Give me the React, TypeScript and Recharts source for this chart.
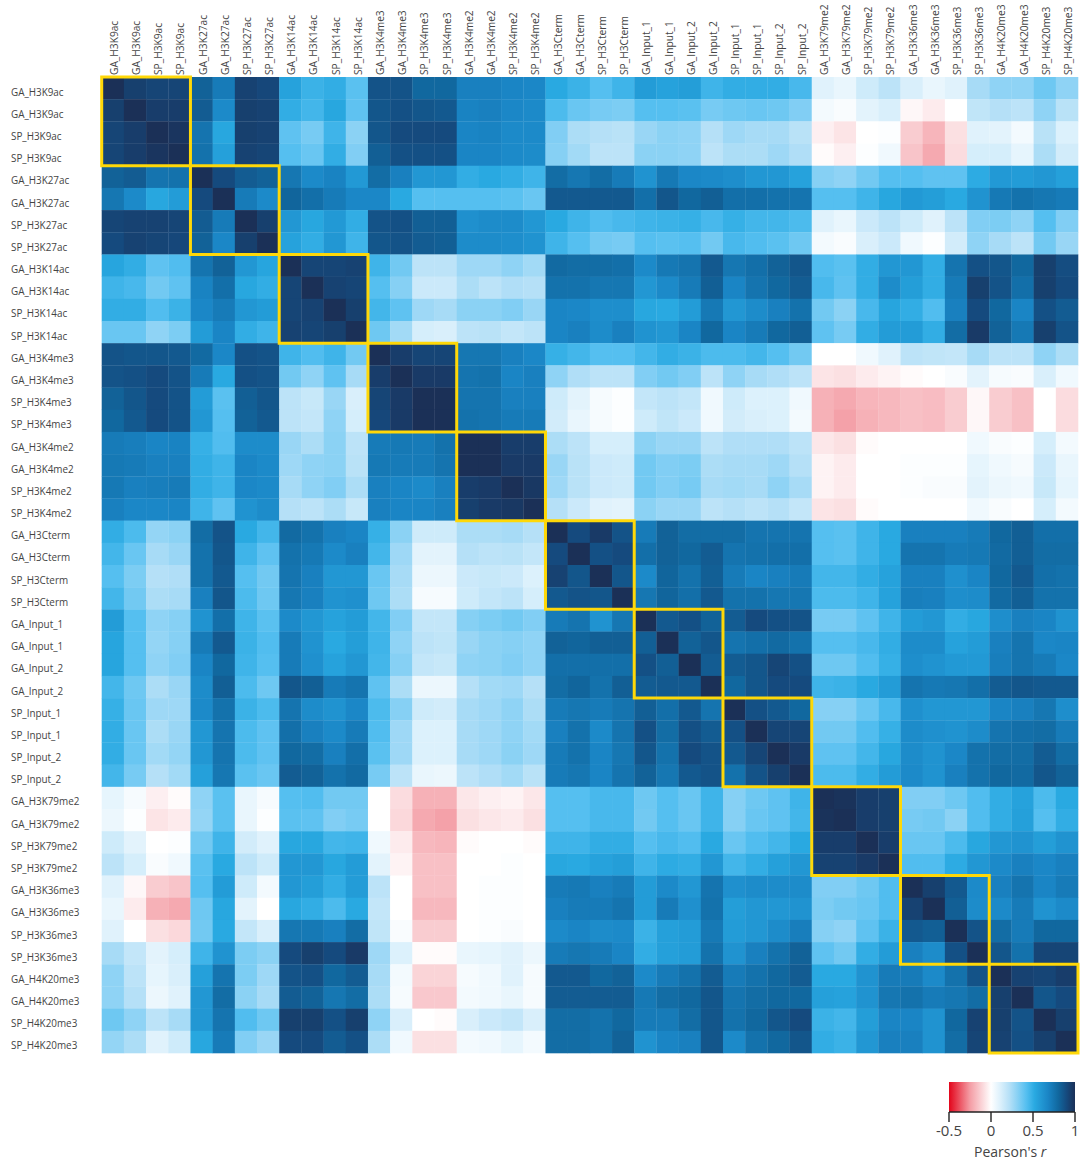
import React from 'react';
import { ScatterChart, Scatter, XAxis, YAxis, ReferenceArea, ComposedChart, Area } from 'recharts';

const labels = [
  'GA_H3K9ac', 'GA_H3K9ac', 'SP_H3K9ac', 'SP_H3K9ac',
  'GA_H3K27ac', 'GA_H3K27ac', 'SP_H3K27ac', 'SP_H3K27ac',
  'GA_H3K14ac', 'GA_H3K14ac', 'SP_H3K14ac', 'SP_H3K14ac',
  'GA_H3K4me3', 'GA_H3K4me3', 'SP_H3K4me3', 'SP_H3K4me3',
  'GA_H3K4me2', 'GA_H3K4me2', 'SP_H3K4me2', 'SP_H3K4me2',
  'GA_H3Cterm', 'GA_H3Cterm', 'SP_H3Cterm', 'SP_H3Cterm',
  'GA_Input_1', 'GA_Input_1', 'GA_Input_2', 'GA_Input_2',
  'SP_Input_1', 'SP_Input_1', 'SP_Input_2', 'SP_Input_2',
  'GA_H3K79me2', 'GA_H3K79me2', 'SP_H3K79me2', 'SP_H3K79me2',
  'GA_H3K36me3', 'GA_H3K36me3', 'SP_H3K36me3', 'SP_H3K36me3',
  'GA_H4K20me3', 'GA_H4K20me3', 'SP_H4K20me3', 'SP_H4K20me3',
];

// block edges of the yellow boxes, in cells
const boxEdges = [0, 4, 8, 12, 16, 20, 24, 28, 32, 36, 40, 44];

const row00 = [1, .94, .92, .92, .82, .72, .93, .91, .55, .48, .5, .41, .87, .87, .8, .8, .7, .7, .68, .67, .52, .48, .42, .47, .58, .55, .57, .47, .5, .5, .5, .45, .1, .07, .15, .2, .12, .07, .1, .25, .3, .3, .37, .3];
const row01 = [.94, 1, .95, .95, .84, .66, .94, .93, .5, .46, .53, .4, .86, .88, .86, .85, .69, .7, .67, .66, .44, .38, .35, .34, .42, .42, .41, .35, .37, .38, .37, .33, .04, .02, .09, .12, -.02, -.05, 0, .19, .22, .2, .3, .21];
const row02 = [.92, .95, 1, .98, .75, .53, .94, .93, .4, .35, .47, .31, .86, .9, .9, .9, .68, .69, .66, .66, .33, .24, .22, .21, .28, .31, .3, .22, .27, .25, .25, .21, -.04, -.07, 0, .01, -.13, -.19, -.08, .1, .09, .04, .21, .11];
const row03 = [.92, .95, .98, 1, .76, .56, .93, .92, .42, .38, .5, .33, .83, .88, .88, .88, .68, .68, .66, .65, .32, .26, .2, .2, .31, .31, .3, .2, .24, .24, .27, .23, -.01, -.04, .01, .05, -.15, -.22, -.09, .13, .13, .08, .24, .14];
const row04 = [.82, .84, .75, .76, 1, .9, .84, .82, .74, .66, .69, .59, .78, .7, .6, .6, .5, .52, .5, .47, .78, .74, .78, .72, .62, .73, .67, .66, .64, .6, .6, .55, .32, .3, .36, .42, .42, .4, .4, .51, .59, .58, .6, .56];
const row05 = [.74, .66, .53, .58, .9, 1, .72, .66, .81, .77, .72, .67, .67, .52, .42, .42, .42, .42, .41, .38, .85, .85, .85, .85, .77, .86, .8, .83, .77, .77, .76, .75, .42, .42, .47, .53, .59, .57, .52, .62, .73, .76, .74, .72];
const row06 = [.92, .93, .93, .92, .84, .72, 1, .94, .6, .53, .59, .5, .87, .88, .83, .83, .63, .65, .65, .6, .52, .47, .43, .45, .47, .48, .49, .45, .49, .46, .46, .44, .1, .07, .16, .2, .15, .1, .2, .33, .34, .3, .42, .33];
const row07 = [.9, .93, .92, .91, .82, .67, .94, 1, .55, .5, .6, .47, .86, .87, .84, .83, .65, .65, .64, .62, .47, .42, .36, .35, .42, .41, .42, .36, .45, .43, .41, .37, .04, .02, .12, .16, .05, .01, .14, .3, .25, .2, .36, .28];
const row08 = [.54, .5, .4, .43, .75, .82, .6, .54, 1, .92, .92, .93, .47, .36, .2, .2, .27, .27, .3, .26, .79, .78, .78, .77, .66, .73, .75, .85, .74, .77, .82, .86, .43, .41, .5, .6, .6, .5, .75, .88, .86, .8, .94, .89];
const row09 = [.47, .45, .36, .4, .69, .77, .53, .5, .92, 1, .93, .92, .42, .32, .16, .16, .24, .2, .23, .22, .76, .76, .74, .74, .6, .66, .72, .83, .68, .75, .8, .84, .45, .4, .5, .65, .57, .5, .72, .94, .87, .77, .94, .9];
const row10 = [.5, .5, .43, .48, .67, .72, .6, .58, .92, .93, 1, .94, .46, .4, .27, .25, .31, .31, .33, .28, .68, .67, .64, .64, .53, .52, .58, .73, .6, .65, .7, .76, .36, .31, .45, .54, .5, .43, .7, .9, .8, .68, .88, .84];
const row11 = [.38, .38, .3, .34, .58, .68, .5, .47, .93, .92, .94, 1, .37, .26, .13, .12, .2, .21, .18, .2, .68, .7, .65, .7, .62, .6, .68, .8, .68, .72, .8, .83, .4, .35, .5, .58, .58, .5, .78, .96, .82, .73, .94, .87];
const row12 = [.87, .86, .86, .85, .79, .67, .88, .87, .47, .43, .47, .36, 1, .95, .92, .92, .74, .74, .7, .67, .49, .46, .42, .42, .46, .5, .48, .44, .44, .46, .42, .36, 0, 0, .05, .1, .2, .19, .18, .25, .2, .2, .3, .24];
const row13 = [.87, .88, .9, .87, .72, .52, .88, .87, .36, .3, .4, .25, .95, 1, .96, .96, .75, .76, .68, .7, .3, .23, .2, .2, .33, .36, .33, .2, .3, .25, .23, .2, -.07, -.08, -.05, -.03, -.01, 0, .02, .09, .03, .02, .12, .05];
const row14 = [.82, .86, .9, .87, .58, .41, .83, .86, .2, .17, .28, .12, .92, .96, 1, 1, .75, .75, .7, .7, .15, .09, .03, .01, .18, .2, .18, .05, .15, .11, .11, .05, -.2, -.22, -.19, -.18, -.16, -.17, -.13, -.02, -.13, -.16, 0, -.09];
const row15 = [.8, .85, .9, .87, .6, .42, .82, .85, .2, .18, .3, .13, .91, .96, 1, 1, .76, .75, .72, .72, .14, .07, .03, .01, .15, .19, .16, .05, .14, .12, .11, .04, -.2, -.24, -.2, -.18, -.16, -.17, -.13, -.02, -.13, -.16, 0, -.09];
const row16 = [.72, .71, .68, .69, .49, .43, .65, .65, .28, .24, .31, .2, .72, .73, .72, .76, 1, 1, .95, .95, .24, .2, .13, .13, .31, .28, .28, .2, .23, .23, .23, .2, -.06, -.08, -.01, 0, 0, 0, 0, .05, .02, .01, .13, .04];
const row17 = [.73, .72, .7, .7, .5, .47, .68, .66, .27, .3, .31, .21, .73, .72, .72, .75, 1, 1, .96, .96, .28, .21, .16, .15, .36, .33, .34, .24, .25, .25, .27, .22, -.03, -.05, 0, 0, .01, .01, .01, .08, .05, .03, .16, .07];
const row18 = [.73, .7, .71, .72, .5, .47, .67, .66, .25, .3, .33, .24, .7, .68, .66, .7, .95, .96, 1, .97, .27, .21, .16, .15, .36, .33, .35, .25, .26, .25, .3, .25, -.03, -.05, 0, 0, .01, .02, .02, .09, .06, .05, .17, .08];
const row19 = [.7, .67, .67, .68, .47, .4, .62, .65, .22, .2, .24, .17, .7, .68, .68, .7, .94, .96, .97, 1, .22, .16, .1, .09, .31, .28, .28, .2, .22, .2, .22, .18, -.07, -.08, -.01, 0, 0, 0, 0, .05, .02, 0, .13, .04];
const row20 = [.5, .44, .29, .31, .78, .87, .52, .46, .79, .76, .7, .68, .49, .31, .15, .15, .24, .24, .25, .22, 1, .9, .96, .87, .72, .82, .78, .78, .78, .75, .75, .75, .42, .41, .47, .52, .7, .7, .7, .72, .8, .83, .77, .77];
const row21 = [.46, .38, .25, .28, .76, .86, .47, .4, .76, .73, .66, .7, .46, .27, .09, .09, .22, .2, .21, .18, .9, 1, .88, .9, .77, .82, .8, .84, .75, .76, .77, .77, .42, .41, .47, .52, .75, .75, .72, .73, .79, .83, .78, .78];
const row22 = [.42, .34, .22, .23, .76, .85, .42, .36, .75, .7, .6, .6, .38, .25, .06, .06, .16, .17, .16, .11, .93, .86, 1, .86, .66, .81, .76, .83, .72, .68, .7, .72, .46, .46, .5, .55, .7, .7, .63, .68, .8, .85, .77, .76];
const row23 = [.46, .36, .24, .25, .7, .86, .44, .37, .74, .7, .62, .63, .37, .24, .03, .03, .15, .18, .2, .13, .85, .87, .86, 1, .74, .81, .77, .85, .76, .76, .74, .74, .44, .44, .47, .55, .71, .7, .64, .65, .79, .83, .76, .76];
const row24 = [.58, .42, .3, .32, .62, .77, .47, .41, .66, .6, .55, .58, .46, .33, .18, .18, .32, .34, .36, .33, .72, .75, .62, .74, 1, .85, .88, .82, .84, .9, .88, .87, .35, .35, .4, .47, .58, .6, .5, .53, .64, .7, .68, .62];
const row25 = [.54, .42, .29, .32, .72, .85, .48, .43, .72, .62, .52, .57, .47, .3, .2, .19, .28, .31, .32, .3, .82, .81, .83, .83, .83, 1, .82, .86, .75, .77, .79, .76, .42, .42, .45, .5, .65, .65, .55, .58, .7, .75, .67, .68];
const row26 = [.54, .42, .3, .33, .68, .8, .47, .42, .72, .63, .55, .6, .46, .32, .18, .17, .3, .31, .33, .3, .77, .77, .77, .77, .88, .83, 1, .84, .84, .86, .92, .88, .37, .37, .43, .49, .64, .62, .59, .59, .71, .75, .72, .67];
const row27 = [.46, .37, .24, .28, .65, .83, .44, .37, .86, .83, .72, .75, .4, .24, .06, .06, .22, .26, .27, .22, .78, .81, .76, .83, .84, .85, .85, 1, .8, .86, .9, .9, .47, .48, .52, .58, .75, .73, .74, .77, .84, .86, .85, .85];
const row28 = [.49, .38, .27, .27, .66, .76, .48, .44, .75, .65, .62, .67, .44, .32, .15, .14, .25, .27, .3, .24, .72, .74, .72, .75, .83, .77, .85, .75, 1, .88, .85, .8, .32, .32, .38, .45, .63, .6, .6, .6, .68, .7, .74, .64];
const row29 = [.5, .38, .24, .28, .6, .75, .44, .4, .77, .7, .66, .72, .43, .27, .11, .11, .25, .27, .3, .26, .7, .76, .66, .75, .88, .78, .88, .84, .88, 1, .92, .92, .36, .36, .43, .49, .65, .63, .62, .65, .75, .77, .78, .72];
const row30 = [.5, .38, .26, .29, .6, .75, .44, .4, .8, .78, .7, .77, .41, .27, .11, .11, .25, .27, .31, .27, .72, .76, .68, .74, .86, .76, .9, .87, .85, .92, 1, .96, .4, .4, .46, .53, .65, .62, .67, .76, .78, .78, .84, .78];
const row31 = [.46, .35, .22, .26, .56, .74, .41, .38, .84, .82, .76, .79, .35, .2, .07, .06, .2, .23, .26, .21, .72, .74, .68, .75, .82, .74, .85, .87, .76, .87, .94, 1, .44, .44, .5, .58, .66, .62, .7, .76, .8, .79, .86, .82];
const row32 = [.08, .03, -.04, -.01, .3, .41, .07, .03, .42, .43, .36, .36, 0, -.09, -.2, -.2, -.06, -.04, -.03, -.06, .42, .42, .45, .45, .37, .42, .38, .47, .32, .37, .4, .47, 1, .99, .95, .94, .33, .33, .37, .43, .5, .55, .44, .52];
const row33 = [.06, .01, -.07, -.05, .29, .41, .07, .01, .41, .4, .33, .35, 0, -.1, -.22, -.24, -.08, -.06, -.05, -.08, .42, .42, .45, .45, .36, .42, .38, .47, .32, .38, .4, .46, .99, 1, .95, .94, .35, .36, .31, .43, .5, .56, .42, .5];
const row34 = [.15, .09, 0, .01, .36, .47, .14, .1, .53, .53, .46, .47, .05, -.05, -.18, -.19, -.01, 0, 0, -.01, .47, .47, .5, .5, .42, .45, .43, .52, .38, .43, .46, .52, .95, .95, 1, .95, .38, .38, .44, .53, .6, .62, .57, .62];
const row35 = [.2, .13, .02, .05, .41, .52, .2, .15, .6, .6, .53, .58, .09, -.03, -.16, -.16, 0, 0, .01, 0, .53, .52, .55, .57, .47, .51, .5, .6, .46, .5, .56, .6, .93, .93, .96, 1, .43, .43, .51, .6, .66, .7, .67, .7];
const row36 = [.1, -.02, -.13, -.15, .42, .58, .15, .04, .6, .57, .5, .58, .2, 0, -.16, -.16, 0, .01, .01, 0, .72, .73, .7, .72, .58, .66, .6, .75, .63, .65, .65, .65, .33, .33, .37, .43, 1, .94, .85, .66, .7, .75, .68, .72];
const row37 = [.07, -.05, -.2, -.22, .37, .53, .09, 0, .53, .5, .44, .52, .18, 0, -.18, -.18, 0, .01, .01, 0, .7, .72, .72, .75, .58, .72, .63, .76, .57, .6, .6, .62, .34, .36, .38, .43, .93, 1, .83, .65, .66, .72, .62, .66];
const row38 = [.1, 0, -.08, -.1, .36, .52, .18, .12, .74, .73, .7, .78, .19, .02, -.13, -.13, 0, .01, .02, 0, .66, .68, .65, .66, .48, .56, .58, .73, .58, .6, .65, .71, .32, .3, .4, .48, .85, .83, 1, .87, .78, .72, .8, .8];
const row39 = [.25, .18, .09, .13, .47, .62, .34, .31, .9, .94, .9, .96, .27, .11, -.01, -.01, .07, .08, .1, .06, .72, .74, .72, .68, .5, .56, .58, .76, .62, .7, .76, .82, .4, .36, .5, .58, .7, .65, .88, 1, .86, .76, .92, .92];
const row40 = [.3, .2, .08, .12, .56, .75, .34, .27, .87, .88, .8, .84, .25, .04, -.11, -.11, .03, .05, .1, .03, .85, .85, .8, .82, .66, .72, .76, .84, .72, .76, .8, .84, .52, .52, .62, .72, .72, .66, .76, .87, 1, .93, .92, .95];
const row41 = [.3, .22, .06, .1, .6, .78, .31, .25, .84, .82, .74, .78, .24, .03, -.14, -.14, .04, .05, .07, .03, .84, .84, .84, .84, .73, .78, .8, .86, .75, .78, .8, .8, .56, .55, .62, .74, .76, .72, .74, .78, .94, 1, .86, .9];
const row42 = [.37, .3, .2, .25, .6, .75, .43, .37, .94, .94, .88, .94, .3, .12, 0, -.01, .12, .16, .18, .12, .78, .78, .76, .8, .72, .72, .78, .86, .76, .8, .86, .9, .48, .46, .57, .68, .68, .62, .8, .93, .94, .87, 1, .94];
const row43 = [.29, .24, .1, .15, .53, .72, .33, .28, .9, .9, .84, .88, .24, .05, -.08, -.08, .04, .05, .08, .04, .78, .78, .76, .82, .62, .68, .7, .86, .66, .76, .8, .86, .5, .48, .6, .7, .7, .62, .78, .92, .93, .88, .94, 1];

const rows = [
  row00, row01, row02, row03, row04, row05, row06, row07, row08, row09, row10,
  row11, row12, row13, row14, row15, row16, row17, row18, row19, row20, row21,
  row22, row23, row24, row25, row26, row27, row28, row29, row30, row31, row32,
  row33, row34, row35, row36, row37, row38, row39, row40, row41, row42, row43,
];

const colorStops: Array<[number, string]> = [
  [-0.5, '#e3051b'], [-0.25, '#f49da5'], [0, '#ffffff'], [0.1, '#e0f2fc'], [0.22, '#b5e0f7'],
  [0.32, '#86d0f4'], [0.42, '#55bff0'], [0.52, '#29a9e1'], [0.68, '#1a85c5'], [0.8, '#11689f'],
  [0.9, '#154a7e'], [1, '#1b3057'],
];

const legendTicks = [-0.5, 0, 0.5, 1];
const legendBand = [{ r: -0.5, h: 1 }, { r: 1, h: 1 }];

const hexToRgb = (hex: string) => [1, 3, 5].map((i) => parseInt(hex.slice(i, i + 2), 16));

const colorFor = (v: number) => {
  for (let i = 1; i < colorStops.length; i++) {
    const [v0, c0] = colorStops[i - 1];
    const [v1, c1] = colorStops[i];
    if (v <= v1) {
      const t = Math.max(0, (v - v0) / (v1 - v0));
      const a = hexToRgb(c0);
      const b = hexToRgb(c1);
      return `rgb(${a.map((x, k) => Math.round(x + (b[k] - x) * t)).join(',')})`;
    }
  }
  return colorStops[colorStops.length - 1][1];
};

const cells = rows.flatMap((r, i) => r.map((v, j) => ({ col: j + 0.5, row: i + 0.5, v })));
const tickPositions = labels.map((_, i) => i + 0.5);

const CHART_W = 1080;
const CHART_H = 1160;
const PLOT_LEFT = 101.7;
const PLOT_TOP = 77;
const PLOT_RIGHT = 2;
const PLOT_BOTTOM = 107;
const CELL_W = (CHART_W - PLOT_LEFT - PLOT_RIGHT) / labels.length;
const CELL_H = (CHART_H - PLOT_TOP - PLOT_BOTTOM) / labels.length;
const LABEL_FONT = '"Open Sans", sans-serif';

const CellShape = (props: any) => {
  const { cx, cy, payload } = props;
  return (
    <rect
      x={cx - CELL_W / 2}
      y={cy - CELL_H / 2}
      width={CELL_W + 0.3}
      height={CELL_H + 0.3}
      fill={colorFor(payload.v)}
    />
  );
};

const TopTick = ({ x, payload }: any) => (
  <text
    transform={`translate(${x + 5},75) rotate(-90)`}
    fontSize={10.2}
    fontFamily={LABEL_FONT}
    fill="#444"
  >
    {labels[Math.floor(payload.value)]}
  </text>
);

const LeftTick = ({ y, payload }: any) => (
  <text x={11} y={y + 7.5} fontSize={9.9} fontFamily={LABEL_FONT} fill="#444">
    {labels[Math.floor(payload.value)]}
  </text>
);

const Legend = () => (
  <div style={{ position: 'absolute', left: 930, top: 1075, width: 150, height: 85 }}>
    <ComposedChart
      width={150}
      height={72}
      data={legendBand}
      margin={{ top: 7, right: 5, left: 19, bottom: 0 }}
    >
      <defs>
        <linearGradient id="pearson" x1="0" y1="0" x2="1" y2="0">
          {colorStops.map(([v, c]) => (
            <stop key={v} offset={`${((v + 0.5) / 1.5) * 100}%`} stopColor={c} />
          ))}
        </linearGradient>
      </defs>
      <XAxis
        dataKey="r"
        type="number"
        domain={[-0.5, 1]}
        ticks={legendTicks}
        interval={0}
        height={35}
        tickSize={10}
        tick={{ fontSize: 15, fontFamily: LABEL_FONT, fill: '#444' }}
        tickMargin={3}
        stroke="#222"
        strokeWidth={1.4}
      />
      <YAxis hide domain={[0, 1]} />
      <Area
        dataKey="h"
        type="linear"
        fill="url(#pearson)"
        fillOpacity={1}
        stroke="none"
        dot={false}
        isAnimationActive={false}
      />
    </ComposedChart>
    <div
      style={{
        position: 'absolute',
        left: 44,
        top: 67,
        fontSize: 14,
        fontFamily: LABEL_FONT,
        color: '#444',
        whiteSpace: 'nowrap',
      }}
    >
      Pearson's <i>r</i>
    </div>
  </div>
);

export default function App() {
  return (
    <div style={{ position: 'absolute', left: 0, top: 0, width: CHART_W, height: CHART_H, background: '#fff' }}>
      <ScatterChart
        width={CHART_W}
        height={CHART_H}
        margin={{ top: 0, right: PLOT_RIGHT, left: 0, bottom: PLOT_BOTTOM }}
      >
        <XAxis
          xAxisId="x"
          dataKey="col"
          type="number"
          orientation="top"
          domain={[0, labels.length]}
          ticks={tickPositions}
          interval={0}
          height={PLOT_TOP}
          axisLine={false}
          tickLine={false}
          tick={<TopTick />}
        />
        <YAxis
          yAxisId="y"
          dataKey="row"
          type="number"
          reversed
          domain={[0, labels.length]}
          ticks={tickPositions}
          interval={0}
          width={PLOT_LEFT}
          axisLine={false}
          tickLine={false}
          tick={<LeftTick />}
        />
        <Scatter
          xAxisId="x"
          yAxisId="y"
          data={cells}
          shape={<CellShape />}
          isAnimationActive={false}
        />
        {boxEdges.slice(1).map((end, i) => (
          <ReferenceArea
            key={end}
            xAxisId="x"
            yAxisId="y"
            x1={boxEdges[i]}
            x2={end}
            y1={boxEdges[i]}
            y2={end}
            fill="none"
            stroke="#ffd808"
            strokeWidth={3}
            zIndex={2000}
          />
        ))}
      </ScatterChart>
      <Legend />
    </div>
  );
}
